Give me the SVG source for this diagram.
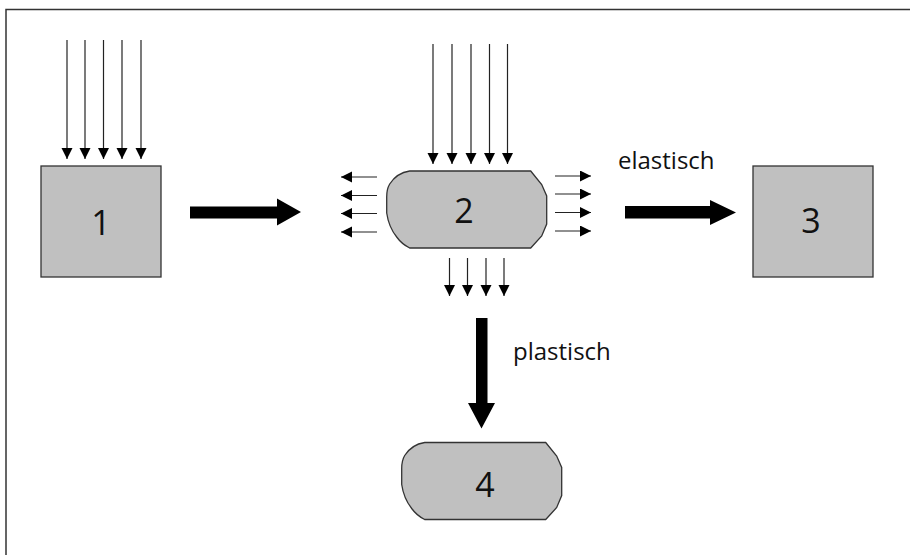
<svg xmlns="http://www.w3.org/2000/svg" width="910" height="555" viewBox="0 0 910 555">
  <style>
    .frame { stroke: #333; stroke-width: 1.5; fill: none; }
    .box { fill: #c0c0c0; stroke: #333; stroke-width: 1.3; }
    .num { font-family: "Open Sans", "Liberation Sans", sans-serif; font-size: 34px; fill: #111; text-anchor: middle; }
    .lbl { font-family: "Open Sans", "Liberation Sans", sans-serif; font-size: 24px; fill: #111; }
    .thin { stroke: #222; stroke-width: 1.2; fill: none; marker-end: url(#head); }
    .bold { fill: #000; }
  </style>
  <defs>
    <marker id="head" markerUnits="userSpaceOnUse" markerWidth="12" markerHeight="12" refX="11" refY="5.5" orient="auto">
      <polygon points="0,0 11,5.5 0,11" fill="#000"/>
    </marker>
    <!-- deformed block outline, local origin top-left, 160 x 77 -->
    <path id="blob" d="M23 0 L144 0 L155 13.5 L160 25 L160 53 L155 65 L144 77 L23 77 Q15 73 10 66 Q2 56 0 42 L0 26 Q0 18 3 13 Q10 2 23 0 Z"/>
  </defs>

  <!-- page frame (top and left edges) -->
  <path class="frame" d="M6 555 L6 9.5 L910 9.5"/>

  <g id="connectors">
    <!-- load on block 1 -->
    <line class="thin" x1="67" y1="40" x2="67" y2="159"/>
    <line class="thin" x1="85" y1="40" x2="85" y2="159"/>
    <line class="thin" x1="103.5" y1="40" x2="103.5" y2="159"/>
    <line class="thin" x1="122" y1="40" x2="122" y2="159"/>
    <line class="thin" x1="141" y1="40" x2="141" y2="159"/>

    <!-- load on block 2 -->
    <line class="thin" x1="433" y1="44" x2="433" y2="164"/>
    <line class="thin" x1="452" y1="44" x2="452" y2="164"/>
    <line class="thin" x1="471" y1="44" x2="471" y2="164"/>
    <line class="thin" x1="489.5" y1="44" x2="489.5" y2="164"/>
    <line class="thin" x1="507.5" y1="44" x2="507.5" y2="164"/>

    <!-- lateral expansion, left -->
    <line class="thin" x1="377" y1="177" x2="341" y2="177"/>
    <line class="thin" x1="377" y1="195.5" x2="341" y2="195.5"/>
    <line class="thin" x1="377" y1="213.5" x2="341" y2="213.5"/>
    <line class="thin" x1="377" y1="232" x2="341" y2="232"/>

    <!-- lateral expansion, right -->
    <line class="thin" x1="555" y1="176" x2="591" y2="176"/>
    <line class="thin" x1="555" y1="194" x2="591" y2="194"/>
    <line class="thin" x1="555" y1="212.5" x2="591" y2="212.5"/>
    <line class="thin" x1="555" y1="231" x2="591" y2="231"/>

    <!-- downward reaction -->
    <line class="thin" x1="449.5" y1="258" x2="449.5" y2="296"/>
    <line class="thin" x1="467.5" y1="258" x2="467.5" y2="296"/>
    <line class="thin" x1="486" y1="258" x2="486" y2="296"/>
    <line class="thin" x1="504" y1="258" x2="504" y2="296"/>

    <!-- process arrows -->
    <polygon class="bold" points="190,206.5 277,206.5 277,198.5 301,212 277,225.5 277,218.5 190,218.5"/>
    <polygon class="bold" points="625,206 710,206 710,200 736,212.5 710,225 710,218.5 625,218.5"/>
    <polygon class="bold" points="476,318 487.5,318 487.5,403 495,403 481.5,428.5 468,403 476,403"/>
  </g>

  <g id="node-1">
    <rect class="box" x="41" y="166" width="120" height="111"/>
    <text class="num" x="101" y="235">1</text>
  </g>

  <g id="node-2">
    <use href="#blob" class="box" transform="translate(386.7 171)"/>
    <text class="num" x="464" y="223">2</text>
  </g>

  <g id="node-3">
    <rect class="box" x="753" y="166" width="120" height="111"/>
    <text class="num" x="811" y="233">3</text>
  </g>

  <g id="node-4">
    <use href="#blob" class="box" transform="translate(401.7 442.5)"/>
    <text class="num" x="485" y="497">4</text>
  </g>

  <g id="labels">
    <text class="lbl" x="618" y="169">elastisch</text>
    <text class="lbl" x="513" y="360">plastisch</text>
  </g>
</svg>
